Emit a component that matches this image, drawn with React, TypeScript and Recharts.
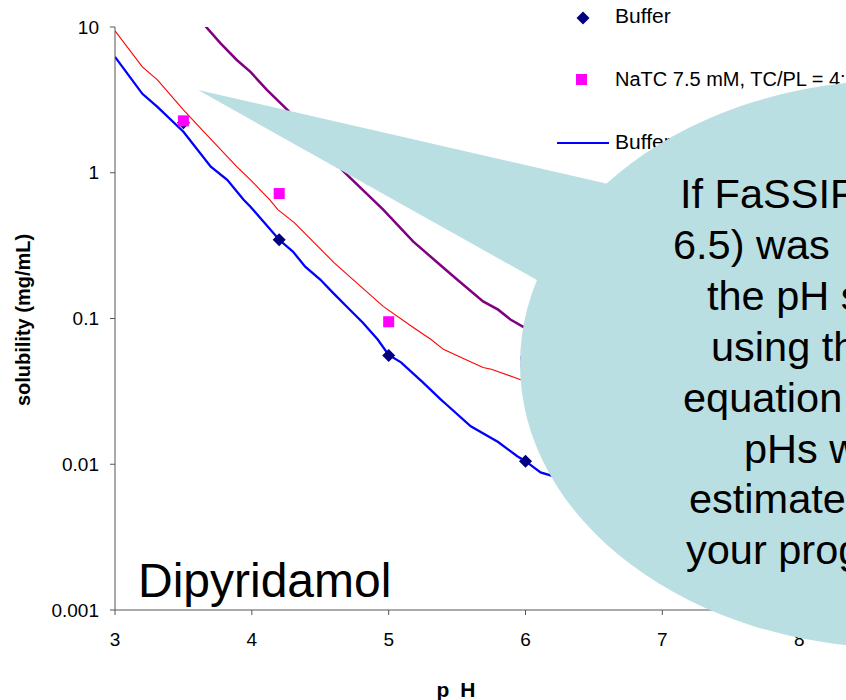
import React from "react";
import {
  ComposedChart,
  Line,
  Scatter,
  XAxis,
  YAxis,
} from "recharts";

// measured points: pH vs solubility (mg/mL)
const bufferPoints = [
  { ph: 3.5, s: 2.2 },
  { ph: 4.2, s: 0.347 },
  { ph: 5.0, s: 0.0558 },
  { ph: 6.0, s: 0.0105 },
];

const natcPoints = [
  { ph: 3.5, s: 2.27 },
  { ph: 4.2, s: 0.72 },
  { ph: 5.0, s: 0.095 },
  { ph: 6.0, s: 0.0507 },
];

// fitted curves
const bufferFitPh = [3.0, 3.2, 3.31, 3.5, 3.7, 3.82, 3.94, 3.99, 4.2, 4.3, 4.39, 4.5, 4.59, 4.7, 4.81, 4.92, 5.0, 5.09, 5.25, 5.38, 5.42, 5.6, 5.8, 5.94, 6.0, 6.11, 6.2, 6.3];
const bufferFitS = [6.24, 3.48, 2.83, 1.91, 1.1, 0.895, 0.653, 0.585, 0.347, 0.288, 0.227, 0.185, 0.151, 0.119, 0.094, 0.0718, 0.0562, 0.05, 0.0365, 0.0279, 0.0258, 0.0182, 0.0142, 0.01135, 0.0105, 0.0088, 0.0083, 0.0076];

const natcFitPh = [3.0, 3.2, 3.31, 3.5, 3.65, 3.89, 3.99, 4.13, 4.19, 4.31, 4.6, 4.96, 5.18, 5.31, 5.4, 5.53, 5.69, 5.75, 5.96, 6.1];
const natcFitS = [9.4, 5.32, 4.34, 2.7, 1.91, 1.1, 0.895, 0.653, 0.558, 0.455, 0.242, 0.121, 0.0867, 0.0718, 0.0614, 0.0541, 0.0461, 0.0448, 0.0382, 0.0355];

const purplePh = [3.62, 3.77, 3.89, 3.99, 4.11, 4.26, 4.67, 4.96, 5.18, 5.4, 5.5, 5.69, 5.8, 5.89, 5.98, 6.1];
const purpleS = [11.2, 7.76, 5.94, 4.92, 3.7, 2.7, 1.02, 0.558, 0.337, 0.223, 0.185, 0.131, 0.115, 0.0984, 0.0881, 0.079];

const xTicks = [3, 4, 5, 6, 7, 8, 9];
const yTicks = [0.001, 0.01, 0.1, 1, 10];

const bubbleLines = [
  "If FaSSIF (pH",
  "6.5) was",
  "the pH shift",
  "using the HH",
  "equation at other",
  "pHs was",
  "estimated by",
  "your program",
];
const bubbleLineX = [680, 673, 707, 711, 683, 744, 689, 686];

const toRows = (ph: number[], s: number[]) => ph.map((p, i) => ({ ph: p, s: s[i] }));

const FONT = "'Liberation Sans', Arial, sans-serif";

const Diamond = (props: any) => {
  const { cx, cy } = props;
  const r = 6.5;
  return <path d={`M${cx},${cy - r}L${cx + r},${cy}L${cx},${cy + r}L${cx - r},${cy}Z`} fill="#000080" />;
};

const Square = (props: any) => {
  const { cx, cy } = props;
  return <rect x={cx - 5.5} y={cy - 5.5} width={11} height={11} fill="#FF00FF" />;
};

export default function App() {
  const tick = { fontSize: 19, fontFamily: FONT, fill: "#000" };
  return (
    <div style={{ position: "absolute", left: 0, top: 0, width: 846, height: 700, overflow: "hidden", background: "#fff", fontFamily: FONT }}>
      <ComposedChart width={1000} height={700} margin={{ top: 27, right: 64, left: 0, bottom: 60 }}>
        <XAxis
          dataKey="ph"
          type="number"
          domain={[3, 9]}
          ticks={xTicks}
          height={30}
          tick={tick}
          tickSize={5}
          tickMargin={18}
          stroke="#555"
          allowDataOverflow
        />
        <YAxis
          dataKey="s"
          type="number"
          scale="log"
          domain={[0.001, 10]}
          ticks={yTicks}
          tickFormatter={(v: number) => String(v)}
          width={115}
          tick={tick}
          tickSize={5}
          tickMargin={11}
          stroke="#555"
          allowDataOverflow
        />
        <Line data={toRows(purplePh, purpleS)} dataKey="s" type="linear" stroke="#800080" strokeWidth={2.5} dot={false} isAnimationActive={false} />
        <Line data={toRows(natcFitPh, natcFitS)} dataKey="s" type="linear" stroke="#FF0000" strokeWidth={1.1} dot={false} isAnimationActive={false} />
        <Line data={toRows(bufferFitPh, bufferFitS)} dataKey="s" type="linear" stroke="#0000FF" strokeWidth={2.3} dot={false} isAnimationActive={false} />
        <Scatter data={bufferPoints} shape={<Diamond />} isAnimationActive={false} />
        <Scatter data={natcPoints} shape={<Square />} isAnimationActive={false} />
      </ComposedChart>

      <svg width={846} height={700} style={{ position: "absolute", left: 0, top: 0, pointerEvents: "none" }} fontFamily={FONT}>
        {/* axis titles */}
        <text x={30} y={320} transform="rotate(-90 30 320)" textAnchor="middle" fontSize={20} fontWeight="bold">
          solubility (mg/mL)
        </text>
        <text x={456} y={697} textAnchor="middle" fontSize={21} fontWeight="bold" wordSpacing={5}>
          p H
        </text>
        <text x={138} y={597} fontSize={48}>Dipyridamol</text>

        {/* legend */}
        <path d="M583,11.5L589.5,18L583,24.5L576.5,18Z" fill="#000080" />
        <text x={615} y={23} fontSize={21}>Buffer</text>
        <rect x={576} y={74} width={11} height={11} fill="#FF00FF" />
        <text x={615} y={86} fontSize={20}>NaTC 7.5 mM, TC/PL = 4:1</text>
        <line x1={557} y1={143} x2={609} y2={143} stroke="#0000FF" strokeWidth={2} />
        <text x={615} y={149} fontSize={21}>Buffer</text>

        {/* callout bubble */}
        <polygon points="198,90 700,205 560,293" fill="#BADFE3" />
        <ellipse cx={900} cy={364} rx={380} ry={284} fill="#BADFE3" />
        {bubbleLines.map((t, i) => (
          <text key={i} x={bubbleLineX[i]} y={208 + i * 50.9} fontSize={41.5} fill="#000">
            {t}
          </text>
        ))}
      </svg>
    </div>
  );
}
